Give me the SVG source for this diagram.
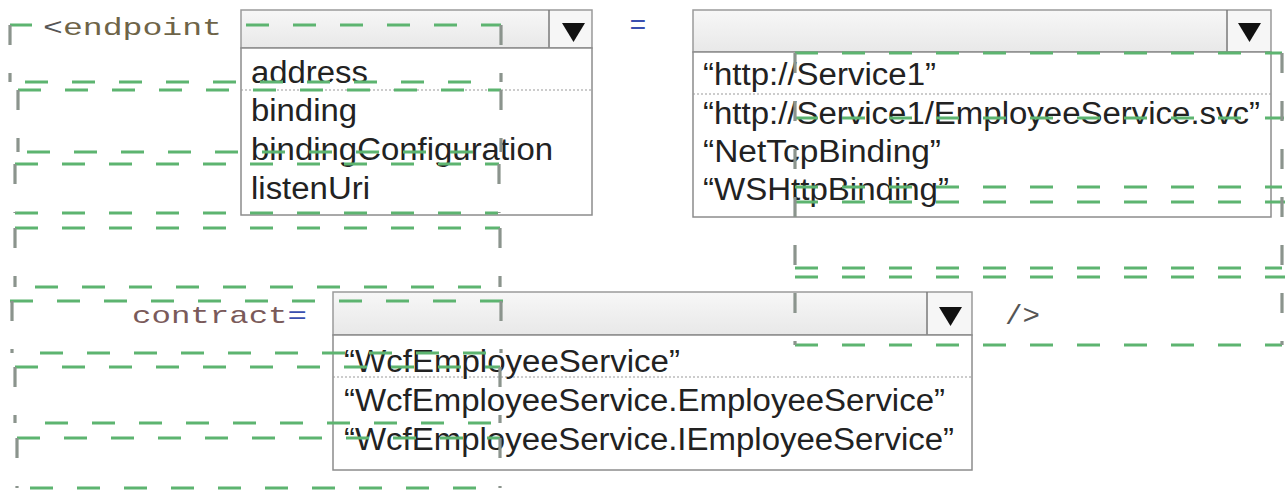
<svg xmlns="http://www.w3.org/2000/svg" width="1286" height="490" viewBox="0 0 1286 490">
<defs>
<linearGradient id="hdr" x1="0" y1="0" x2="0" y2="1"><stop offset="0" stop-color="#f7f7f7"/><stop offset="1" stop-color="#e8e8e8"/></linearGradient>
<style>
.box{fill:#fff;stroke:#8c8c8c;stroke-width:1.5}
.hdr{fill:url(#hdr);stroke:#9a9a9a;stroke-width:1.5}
.btn{fill:#f6f6f6}
.div{stroke:#7a7a7a;stroke-width:1.5}
.sep{stroke:#9a9a9a;stroke-width:1.2;stroke-dasharray:2 2}
.arrow{fill:#111}
.opt{font-family:"Liberation Sans",Arial,sans-serif;font-size:31px;fill:#222}
.code{font-family:"Liberation Mono","Courier New",monospace;font-size:24px}
.gh{stroke:#5db470;stroke-width:3.2;stroke-dasharray:23 24;fill:none}
.gv{stroke:#8b948d;stroke-width:3.2;stroke-dasharray:20 28;fill:none}
</style>
</defs>
<rect width="1286" height="490" fill="#ffffff"/>

<g id="label-endpoint">
<text class="code" x="43" y="35" textLength="179" lengthAdjust="spacingAndGlyphs"><tspan fill="#555">&lt;</tspan><tspan fill="#6e6448">endpoint</tspan></text>
</g>
<g id="label-equals">
<text class="code" x="638" y="34" text-anchor="middle" fill="#3a4fb0" style="font-size:28px">=</text>
</g>
<g id="label-contract">
<text class="code" x="132" y="323" textLength="175" lengthAdjust="spacingAndGlyphs"><tspan fill="#7a5a5a">contract</tspan><tspan fill="#3a4fb0">=</tspan></text>
</g>
<g id="label-close">
<text class="code" x="1005" y="324" textLength="35" lengthAdjust="spacingAndGlyphs" fill="#555" style="font-size:27px">/&gt;</text>
</g>

<g id="dropdown-attribute">
<rect class="hdr" x="241" y="10" width="351" height="38"/>
<rect class="btn" x="550" y="11" width="41" height="36"/>
<line class="div" x1="549" y1="10" x2="549" y2="48"/>
<polygon class="arrow" points="562,23 585,23 573.5,42"/>
<rect class="box" x="241" y="48" width="351" height="167"/>
<line class="sep" x1="241" y1="90" x2="592" y2="90"/>
<text class="opt" x="251" y="83" textLength="117" lengthAdjust="spacingAndGlyphs">address</text>
<text class="opt" x="251" y="121" textLength="106" lengthAdjust="spacingAndGlyphs">binding</text>
<text class="opt" x="251" y="160" textLength="302" lengthAdjust="spacingAndGlyphs">bindingConfiguration</text>
<text class="opt" x="251" y="199" textLength="119" lengthAdjust="spacingAndGlyphs">listenUri</text>
</g>

<g id="dropdown-value">
<rect class="hdr" x="693" y="10" width="578" height="42"/>
<rect class="btn" x="1228" y="11" width="42" height="40"/>
<line class="div" x1="1227" y1="10" x2="1227" y2="52"/>
<polygon class="arrow" points="1238,23 1261,23 1249.5,42"/>
<rect class="box" x="693" y="52" width="578" height="165"/>
<line class="sep" x1="693" y1="94" x2="1271" y2="94"/>
<text class="opt" x="703" y="85" textLength="233" lengthAdjust="spacingAndGlyphs">“http://Service1”</text>
<text class="opt" x="703" y="124" textLength="557" lengthAdjust="spacingAndGlyphs">“http://Service1/EmployeeService.svc”</text>
<text class="opt" x="703" y="162" textLength="238" lengthAdjust="spacingAndGlyphs">“NetTcpBinding”</text>
<text class="opt" x="703" y="200" textLength="246" lengthAdjust="spacingAndGlyphs">“WSHttpBinding”</text>
</g>

<g id="dropdown-contract">
<rect class="hdr" x="333" y="292" width="639" height="43"/>
<rect class="btn" x="928" y="293" width="43" height="41"/>
<line class="div" x1="927" y1="292" x2="927" y2="335"/>
<polygon class="arrow" points="939,307 962,307 950.5,326"/>
<rect class="box" x="333" y="335" width="639" height="135"/>
<line class="sep" x1="333" y1="377" x2="972" y2="377"/>
<text class="opt" x="344" y="372" textLength="336" lengthAdjust="spacingAndGlyphs">“WcfEmployeeService”</text>
<text class="opt" x="344" y="411" textLength="601" lengthAdjust="spacingAndGlyphs">“WcfEmployeeService.EmployeeService”</text>
<text class="opt" x="344" y="450" textLength="610" lengthAdjust="spacingAndGlyphs">“WcfEmployeeService.IEmployeeService”</text>
</g>

<g id="connectors">
<path class="gh" d="M10 25H32M246 25H501M25 82H492"/>
<path class="gv" d="M10 25V82M501 25V82"/>
<path class="gh" d="M18 90H501M27 152H495"/>
<path class="gv" d="M18 90V152M501 90V152"/>
<path class="gh" d="M15 164H499M15 213H498"/>
<path class="gv" d="M15 164V213M499 164V213"/>
<path class="gh" d="M15 228H500M35 287H495"/>
<path class="gv" d="M15 228V287M500 228V287"/>
<path class="gh" d="M10 301H505M40 353H495"/>
<path class="gv" d="M12 301V353M501 301V353"/>
<path class="gh" d="M15 367H500M45 423H492"/>
<path class="gv" d="M15 367V423M500 367V423"/>
<path class="gh" d="M17 438H500M30 488H495"/>
<path class="gv" d="M17 438V488M500 438V488"/>
<path class="gh" d="M795 53H1282M795 118H1284M795 187H1282M795 202H1285M795 268H1282M795 277H1285M795 345H1282"/>
<path class="gv" d="M795 53V345M1282 53V345"/>
</g>
</svg>
